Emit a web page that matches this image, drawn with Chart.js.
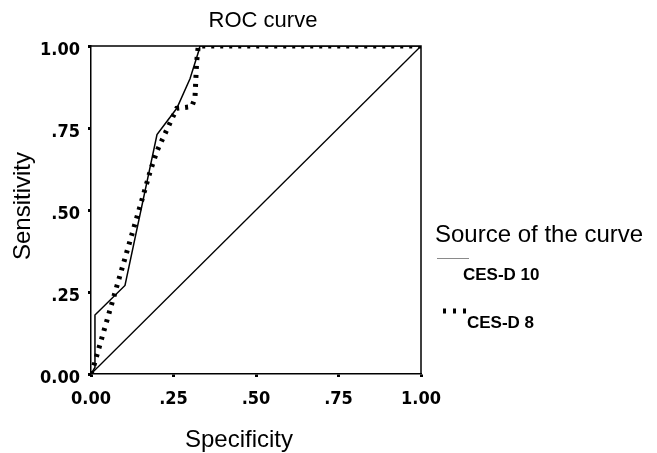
<!DOCTYPE html>
<html>
<head>
<meta charset="utf-8">
<script src="https://cdn.jsdelivr.net/npm/chart.js@4.4.1/dist/chart.umd.min.js"></script>
<style>
  html, body { margin: 0; padding: 0; background: #fff; }
  canvas { display: block; }
</style>
</head>
<body>
<canvas id="c" width="657" height="453"></canvas>
<script>
// ---- data ----
const chartTitle = 'ROC curve';
const xTitle = 'Specificity';
const yTitle = 'Sensitivity';
const legendTitle = 'Source of the curve';
const seriesNames = ['CES-D 10', 'CES-D 8'];
const tickValues = [0, 0.25, 0.5, 0.75, 1];
const tickLabels = ['0.00', '.25', '.50', '.75', '1.00'];

const cesd10X = [0, 0.012, 0.012, 0.103, 0.20, 0.26, 0.30, 0.325, 0.33, 1];
const cesd10Y = [0, 0.02, 0.18, 0.27, 0.73, 0.81, 0.90, 0.98, 1.00, 1];

const cesd8X = [0, 0.01, 0.03, 0.18, 0.20, 0.26, 0.305, 0.315, 0.32, 0.325, 1];
const cesd8Y = [0, 0.03, 0.10, 0.62, 0.68, 0.81, 0.815, 0.84, 0.95, 1.00, 1];

const refX = [0, 1];
const refY = [0, 1];

const pts = (xs, ys) => xs.map((x, i) => ({ x, y: ys[i] }));

const tickFont = { family: "'DejaVu Sans Condensed', 'DejaVu Sans'", weight: 'bold', size: 18 };
const titleFontFamily = "'Liberation Sans', Arial, sans-serif";

const fmt = v => {
  const i = tickValues.findIndex(t => Math.abs(t - v) < 1e-9);
  return i >= 0 ? tickLabels[i] : '';
};

const decorPlugin = {
  id: 'decor',
  afterDraw(chart) {
    const { ctx, chartArea: a } = chart;
    ctx.save();
    // frame top & right
    ctx.strokeStyle = '#000';
    ctx.lineWidth = 1.5;
    ctx.beginPath();
    ctx.moveTo(a.left, a.top);
    ctx.lineTo(a.right, a.top);
    ctx.lineTo(a.right, a.bottom);
    ctx.stroke();

    // title
    ctx.fillStyle = '#000';
    ctx.font = '22px ' + titleFontFamily;
    ctx.textAlign = 'center';
    ctx.textBaseline = 'alphabetic';
    ctx.fillText(chartTitle, 263, 27);

    // x axis title
    ctx.font = '24px ' + titleFontFamily;
    ctx.fillText(xTitle, 239, 447);

    // y axis title
    ctx.save();
    ctx.translate(30, 206);
    ctx.rotate(-Math.PI / 2);
    ctx.fillText(yTitle, 0, 0);
    ctx.restore();

    // legend
    ctx.textAlign = 'left';
    ctx.font = '24px ' + titleFontFamily;
    ctx.fillText(legendTitle, 435, 242);

    ctx.strokeStyle = '#8a8a8a';
    ctx.lineWidth = 1;
    ctx.beginPath();
    ctx.moveTo(437, 258.5);
    ctx.lineTo(469, 258.5);
    ctx.stroke();

    ctx.font = 'bold 17px ' + titleFontFamily;
    ctx.fillText(seriesNames[0], 463, 280);

    ctx.strokeStyle = '#000';
    ctx.lineWidth = 5;
    ctx.setLineDash([3, 7]);
    ctx.beginPath();
    ctx.moveTo(443, 311);
    ctx.lineTo(470, 311);
    ctx.stroke();
    ctx.setLineDash([]);

    ctx.fillText(seriesNames[1], 467, 328);
    ctx.restore();
  }
};

new Chart(document.getElementById('c'), {
  type: 'scatter',
  data: {
    datasets: [
      { label: 'Reference', data: pts(refX, refY), showLine: true, borderColor: '#000', borderWidth: 1.3, pointRadius: 0, tension: 0 },
      { label: seriesNames[0], data: pts(cesd10X, cesd10Y), showLine: true, borderColor: '#000', borderWidth: 1.5, pointRadius: 0, tension: 0 },
      { label: seriesNames[1], data: pts(cesd8X, cesd8Y), showLine: true, borderColor: '#000', borderWidth: 5, borderDash: [3, 6], borderCapStyle: 'butt', pointRadius: 0, tension: 0 }
    ]
  },
  options: {
    responsive: false,
    animation: false,
    layout: { padding: { top: 46, right: 236, left: 0, bottom: 0 } },
    plugins: { legend: { display: false }, tooltip: { enabled: false }, title: { display: false } },
    scales: {
      x: {
        type: 'linear', min: 0, max: 1,
        afterBuildTicks: s => { s.ticks = tickValues.map(v => ({ value: v })); },
        afterFit: s => { s.height = 79; },
        ticks: { callback: fmt, font: tickFont, color: '#000', padding: 12, maxRotation: 0, autoSkip: false },
        grid: { drawOnChartArea: false, tickLength: 3, tickWidth: 3, tickColor: '#000' },
        border: { display: true, color: '#000', width: 1.5 },
        title: { display: false, text: xTitle }
      },
      y: {
        type: 'linear', min: 0, max: 1,
        afterBuildTicks: s => { s.ticks = tickValues.map(v => ({ value: v })); },
        afterFit: s => { s.width = 91; },
        ticks: { callback: fmt, font: tickFont, color: '#000', padding: 8, labelOffset: 4, autoSkip: false },
        grid: { drawOnChartArea: false, tickLength: 3, tickWidth: 3, tickColor: '#000' },
        border: { display: true, color: '#000', width: 1.5 },
        title: { display: false, text: yTitle }
      }
    }
  },
  plugins: [decorPlugin]
});
</script>
</body>
</html>
